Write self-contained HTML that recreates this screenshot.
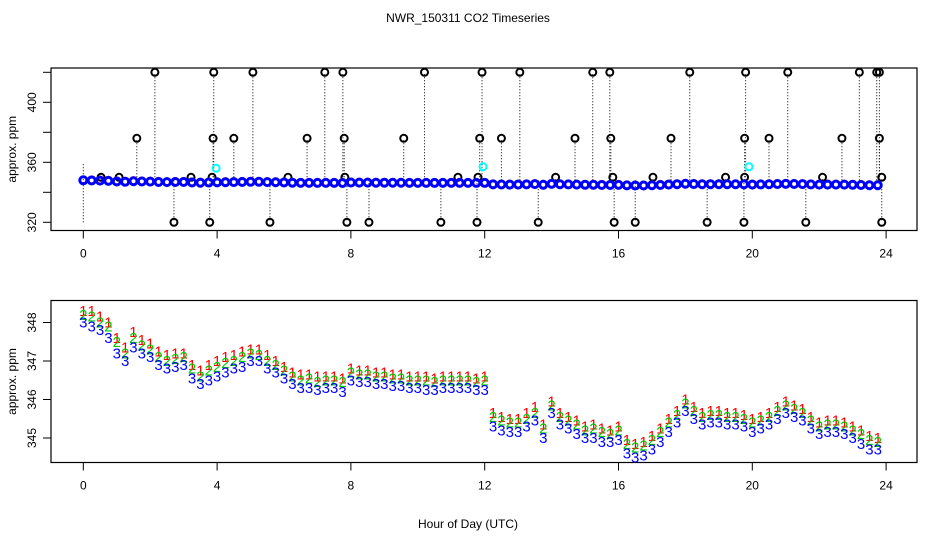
<!DOCTYPE html>
<html><head><meta charset="utf-8"><style>
html,body{margin:0;padding:0;background:#fff;}
svg{display:block;font-family:"Liberation Sans",sans-serif;}
</style></head><body>
<svg id="chart" width="936" height="540" viewBox="0 0 936 540">
<text x="468" y="22" font-size="12" text-anchor="middle">NWR_150311  CO2 Timeseries</text>
<text x="468" y="528" font-size="12" text-anchor="middle">Hour of Day (UTC)</text>
<g id="topPanel"></g>
<g id="botPanel"></g>
</svg>
<script>
const hours = [];
for (let i = 0; i < 96; i++) hours.push(i * 0.25);
const s3 = [348.0,347.9,347.8,347.6,347.2,347.0,347.35,347.2,347.1,346.9,346.8,346.85,346.9,346.55,346.4,346.5,346.6,346.7,346.8,346.85,347.0,347.0,346.8,346.7,346.55,346.4,346.3,346.3,346.25,346.3,346.3,346.2,346.5,346.45,346.45,346.4,346.4,346.35,346.35,346.3,346.3,346.25,346.25,346.3,346.3,346.3,346.3,346.25,346.25,345.3,345.2,345.15,345.15,345.3,345.45,345.0,345.65,345.35,345.25,345.1,345.0,345.0,344.9,344.9,344.95,344.6,344.5,344.55,344.7,344.9,345.15,345.4,345.7,345.5,345.35,345.4,345.4,345.35,345.35,345.3,345.15,345.25,345.35,345.5,345.65,345.55,345.45,345.25,345.1,345.15,345.15,345.1,345.0,344.85,344.7,344.7];
const s2 = [348.2,348.15,348.0,347.9,347.5,347.2,347.6,347.4,347.3,347.1,347.0,347.05,347.1,346.8,346.6,346.75,346.85,346.95,347.0,347.1,347.2,347.15,347.0,346.9,346.75,346.6,346.5,346.55,346.45,346.5,346.5,346.45,346.7,346.65,346.65,346.6,346.6,346.55,346.55,346.5,346.5,346.5,346.45,346.5,346.5,346.5,346.5,346.45,346.5,345.55,345.45,345.4,345.4,345.5,345.65,345.25,345.85,345.55,345.45,345.35,345.2,345.25,345.15,345.1,345.2,344.85,344.75,344.8,344.95,345.15,345.4,345.6,345.9,345.7,345.55,345.6,345.6,345.55,345.55,345.5,345.4,345.45,345.55,345.7,345.85,345.75,345.65,345.45,345.3,345.35,345.35,345.3,345.2,345.1,344.95,344.9];
const s1 = [348.3,348.3,348.15,348.0,347.6,347.35,347.75,347.55,347.45,347.25,347.15,347.2,347.2,346.9,346.75,346.9,347.0,347.1,347.15,347.25,347.3,347.3,347.15,347.0,346.85,346.7,346.65,346.65,346.6,346.6,346.6,346.55,346.8,346.75,346.75,346.7,346.7,346.65,346.65,346.6,346.6,346.6,346.55,346.6,346.6,346.6,346.6,346.55,346.6,345.65,345.55,345.5,345.5,345.65,345.8,345.35,345.95,345.65,345.55,345.45,345.3,345.35,345.25,345.2,345.3,344.95,344.85,344.9,345.05,345.25,345.5,345.7,346.0,345.8,345.65,345.7,345.7,345.65,345.65,345.6,345.5,345.55,345.65,345.8,345.95,345.85,345.75,345.55,345.4,345.45,345.45,345.4,345.3,345.2,345.05,345.0];
const outHours = [2.14,3.9,5.07,7.22,7.76,10.2,11.92,13.05,15.23,15.74,18.13,19.8,21.06,23.2,23.72,23.8,
  1.6,3.88,4.5,6.69,7.8,9.58,11.85,12.5,14.7,15.77,17.57,19.77,20.5,22.68,23.8,
  1.07,3.22,3.85,6.12,7.82,11.2,11.8,14.12,15.83,17.03,19.2,19.77,22.1,23.87,
  0.53,2.71,3.78,5.58,7.88,8.54,10.69,11.77,13.6,15.87,16.5,18.65,19.75,21.6,23.87];
const outVals = [420,420,420,420,420,420,420,420,420,420,420,420,420,420,420,420,
  376,376,376,376,376,376,376,376,376,376,376,376,376,376,376,
  350,350,350,350,350,350,350,350,350,350,350,350,350,350,350,
  320,320,320,320,320,320,320,320,320,320,320,320,320,320,320];
const cyanHours = [3.97,11.95,19.9];
const cyanVals = [356,357,357];
const xTicks = [0,4,8,12,16,20,24];
const topYTicks = [320,340,360,380,400,420];
const topYLabels = [320,360,400];
const botYTicks = [345,346,347,348];

const NS = "http://www.w3.org/2000/svg";
function mk(tag, attrs, parent){const e=document.createElementNS(NS,tag);for(const k in attrs)e.setAttribute(k,attrs[k]);parent.appendChild(e);return e;}
const X0=51, X1=917;
const xs = h => 83.3 + h*33.45;
const yTop = v => 222.3 - (v-320)*1.5;
const yBot = v => 438 - (v-345)*38.5;
const topG = document.getElementById('topPanel'), botG = document.getElementById('botPanel');

function axes(g, y0, y1, yfun, ticks, labels, name){
  const r = mk('rect',{x:X0,y:y0,width:X1-X0,height:y1-y0,fill:'none',stroke:'#000','stroke-width':1.2},g);
  
  
  xTicks.forEach(t=>{
    const l=mk('line',{x1:xs(t),x2:xs(t),y1:y1,y2:y1+8,stroke:'#000'},g);
    
    
    const tx=mk('text',{x:xs(t),y:y1+27,'font-size':12,'text-anchor':'middle'},g);
    tx.textContent=t;
    
    
  });
  ticks.forEach(t=>{
    const l=mk('line',{x1:X0-8,x2:X0,y1:yfun(t),y2:yfun(t),stroke:'#000'},g);
    
    
  });
  labels.forEach(t=>{
    const tx=mk('text',{x:0,y:0,'font-size':12,'text-anchor':'middle',transform:`translate(36,${yfun(t)}) rotate(-90)`},g);
    tx.textContent=t;
    
    
  });
  const yl=mk('text',{x:0,y:0,'font-size':12,'text-anchor':'middle',transform:`translate(16,${(y0+y1)/2}) rotate(-90)`},g);
  yl.textContent='approx. ppm';
  
  
}
axes(topG,68,230.5,yTop,topYTicks,topYLabels,'top');
axes(botG,300.5,462.5,yBot,botYTicks,botYTicks,'bottom');

outHours.forEach((h,i)=>{
  const base = 348;
  const l=mk('line',{x1:xs(h),x2:xs(h),y1:yTop(base),y2:yTop(outVals[i]),stroke:'#000','stroke-width':1,'stroke-dasharray':'1,2'},topG);
  
  
  const c=mk('circle',{cx:xs(h),cy:yTop(outVals[i]),r:3.5,fill:'none',stroke:'#000','stroke-width':2},topG);
  
  
});
const st=mk('line',{x1:xs(0),x2:xs(0),y1:yTop(320),y2:yTop(360),stroke:'#000','stroke-dasharray':'1,2'},topG);


[[s1,'#f00'],[s2,'#0c0'],[s3,'#00f']].forEach(([arr,col],si)=>{
  arr.forEach((v,i)=>{
    const c=mk('circle',{cx:xs(hours[i]),cy:yTop(v),r:3.5,fill:'none',stroke:col,'stroke-width':si==2?3:2},topG);
    
    
  });
});
cyanHours.forEach((h,i)=>{
  const c=mk('circle',{cx:xs(h),cy:yTop(cyanVals[i]),r:3.5,fill:'none',stroke:'#0ff','stroke-width':2},topG);
  
  
});
[[s1,'#f00','1'],[s2,'#0c0','2'],[s3,'#00f','3']].forEach(([arr,col,ch],si)=>{
  arr.forEach((v,i)=>{
    const t=mk('text',{x:xs(hours[i]),y:yBot(v)+5,'font-size':15,'text-anchor':'middle',fill:col},botG);
    t.textContent=ch;
    
    
  });
});
</script>
</body></html>
